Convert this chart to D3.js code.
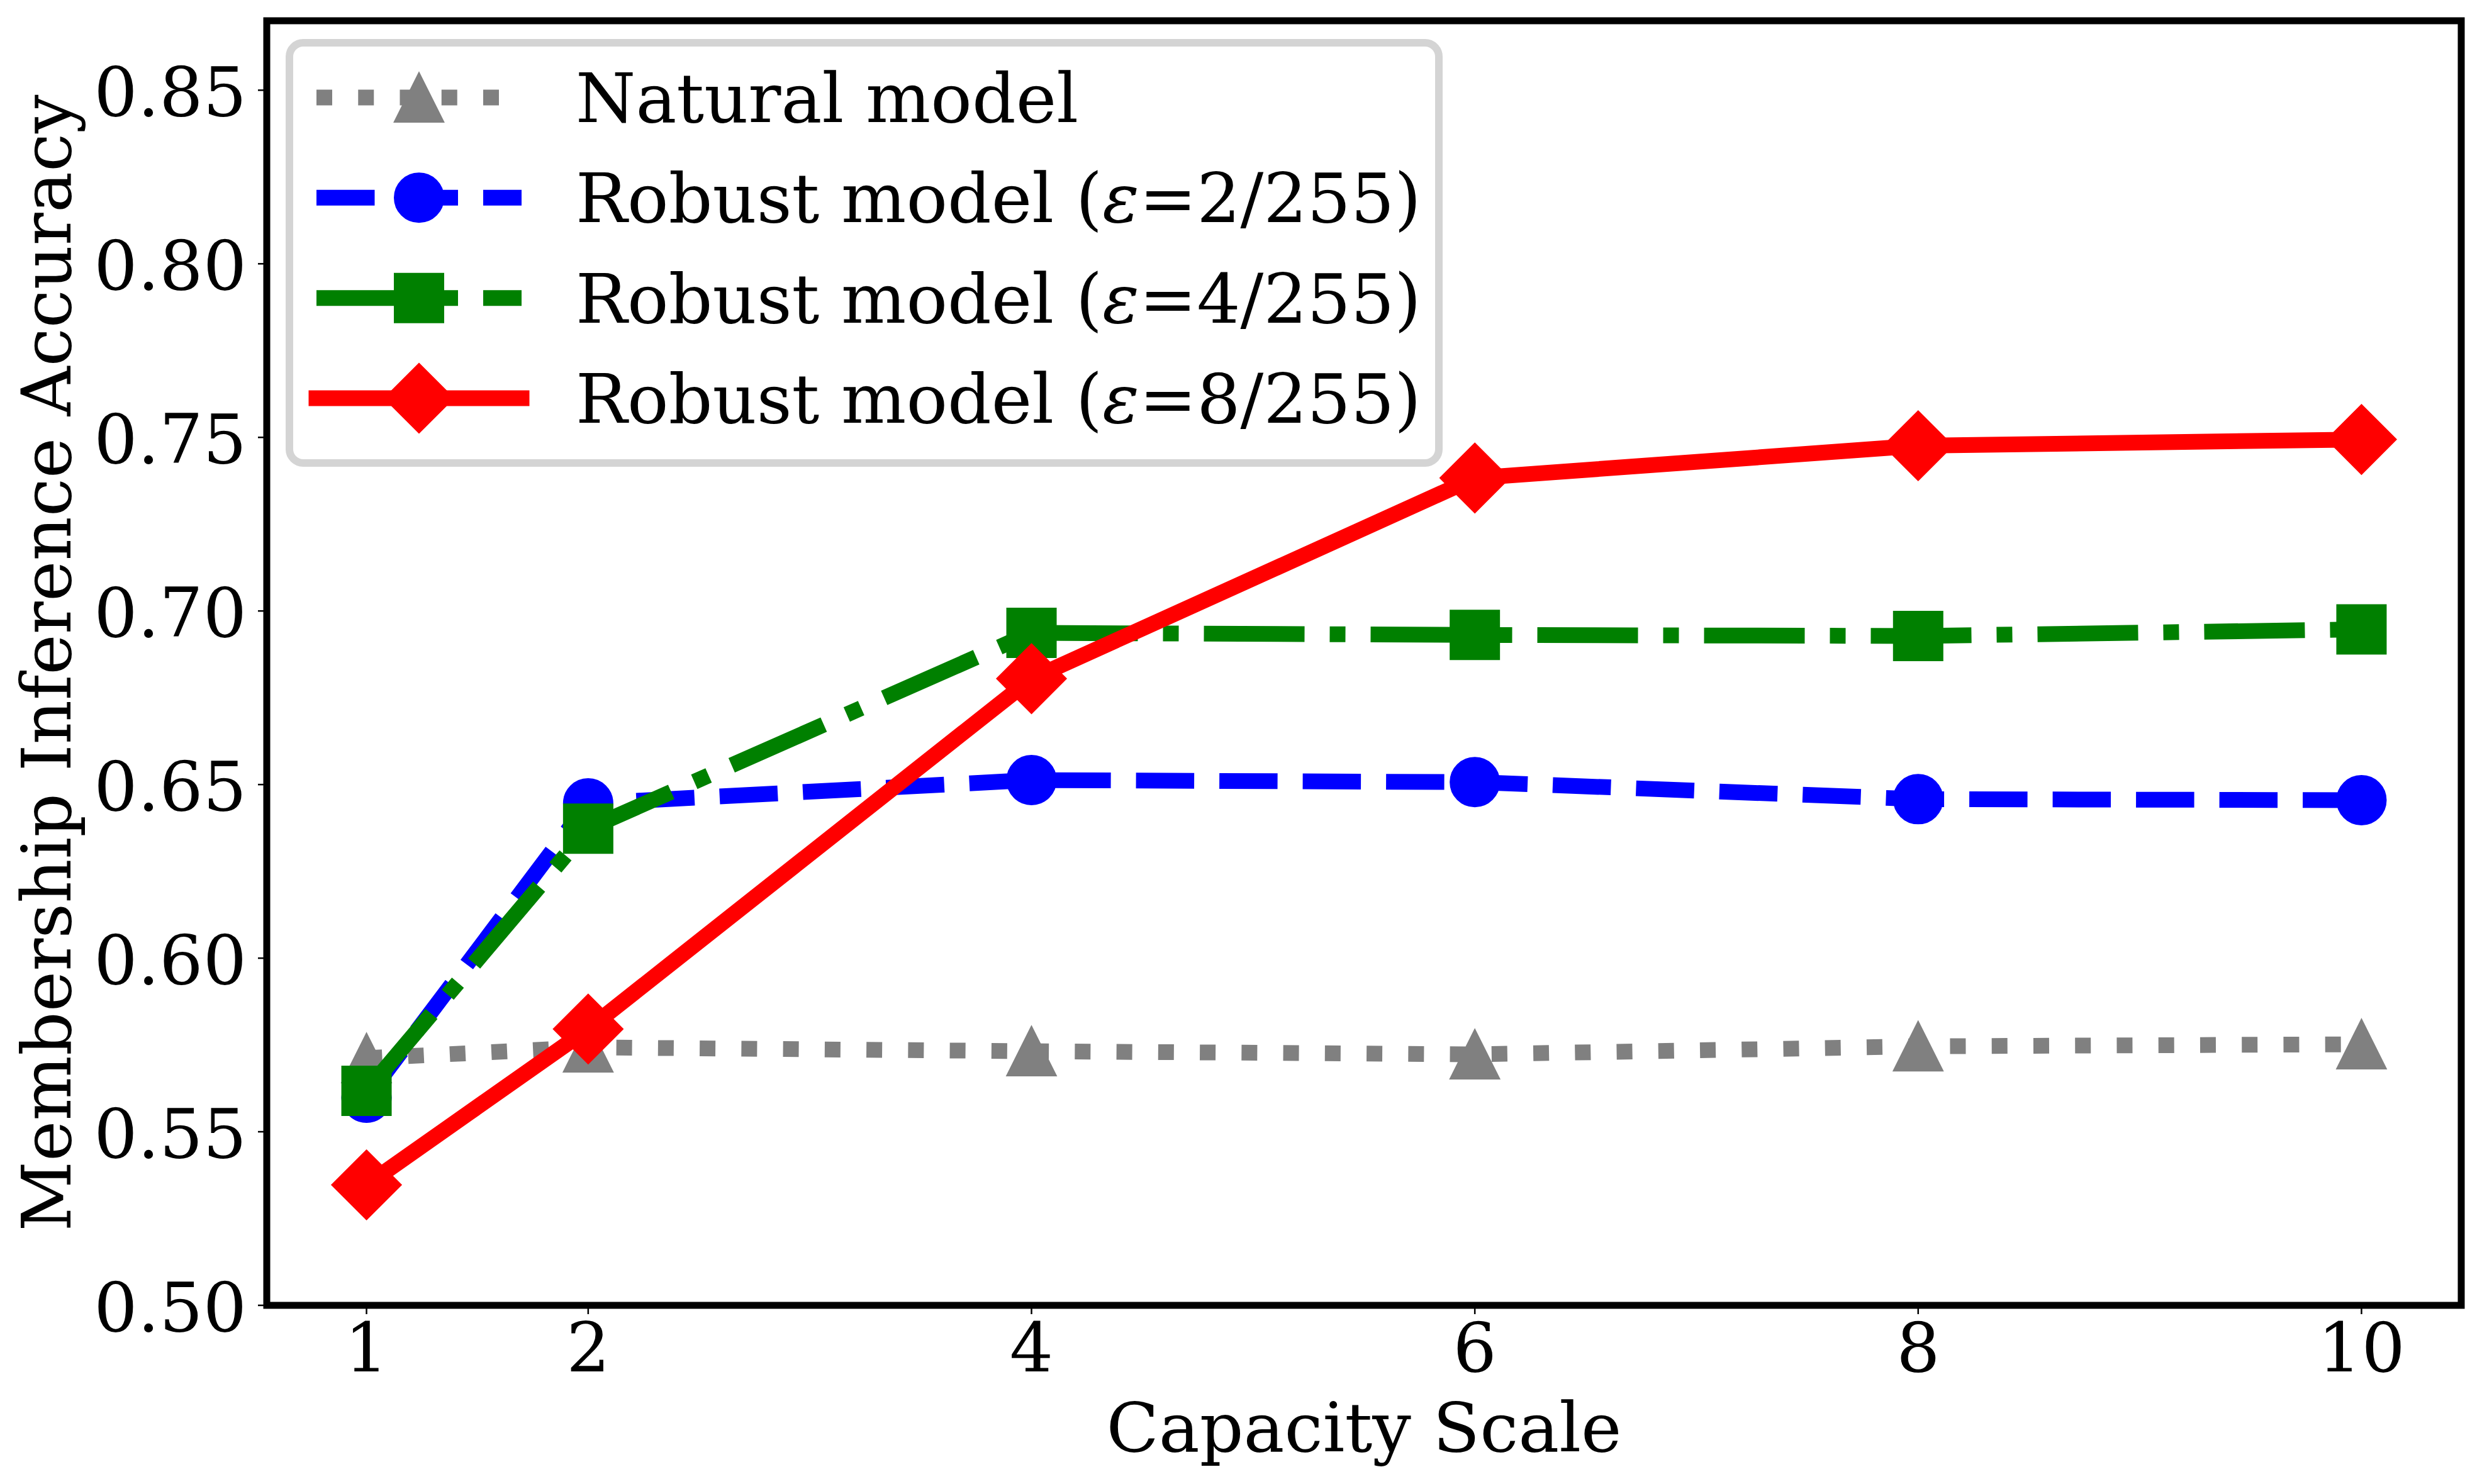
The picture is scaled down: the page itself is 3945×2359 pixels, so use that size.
<!DOCTYPE html>
<html>
<head>
<meta charset="utf-8">
<script src="https://cdn.jsdelivr.net/npm/d3@7"></script>
<style>
  html, body { margin: 0; padding: 0; background: #fff; }
  svg { display: block; }
</style>
</head>
<body>
<div id="chart"></div>
<script>
(function () {
  'use strict';

  // ---- data ----
  const CAPACITY = [1, 2, 4, 6, 8, 10];
  const NATURAL = [0.5712, 0.5743, 0.5732, 0.5723, 0.5746, 0.5752];
  const ROBUST_2 = [0.5598, 0.6446, 0.6513, 0.6507, 0.6458, 0.6455];
  const ROBUST_4 = [0.5618, 0.6373, 0.6937, 0.6931, 0.6928, 0.6947];
  const ROBUST_8 = [0.5347, 0.5796, 0.6805, 0.7383, 0.7476, 0.7494];
  const LABELS = ['Natural model', 'Robust model (ε=2/255)', 'Robust model (ε=4/255)', 'Robust model (ε=8/255)'];
  const X_TICKS = [1, 2, 4, 6, 8, 10];
  const Y_TICKS = [0.50, 0.55, 0.60, 0.65, 0.70, 0.75, 0.80, 0.85];
  const X_TITLE = 'Capacity Scale';
  const Y_TITLE = 'Membership Inference Accuracy';

  const W = 3945, H = 2359;
  const FONT = '"DejaVu Serif", serif';
  const FS = 109;
  const LW = 25;
  const MS = 77;

  // plot box (spine centres)
  const box = { left: 424, right: 3912, top: 33, bottom: 2075 };

  const x = d3.scaleLinear().domain([0.55, 10.45]).range([box.left, box.right]);
  const y = d3.scaleLinear().domain([0.5, 0.87]).range([box.bottom, box.top]);

  // matplotlib-like marker shapes; size = ms^2
  const tri = { draw(ctx, s) { const r = Math.sqrt(s) / 2; ctx.moveTo(0, -r); ctx.lineTo(-r, r); ctx.lineTo(r, r); ctx.closePath(); } };
  const circ = { draw(ctx, s) { const r = Math.sqrt(s) / 2; ctx.moveTo(r, 0); ctx.arc(0, 0, r, 0, 2 * Math.PI); ctx.closePath(); } };
  const sq = { draw(ctx, s) { const r = Math.sqrt(s) / 2; ctx.rect(-r, -r, 2 * r, 2 * r); } };
  const dia = { draw(ctx, s) { const r = Math.sqrt(s) / 2 * Math.SQRT2; ctx.moveTo(0, -r); ctx.lineTo(r, 0); ctx.lineTo(0, r); ctx.lineTo(-r, 0); ctx.closePath(); } };

  const series = [
    { values: NATURAL, color: '#808080', dash: [LW * 1, LW * 1.65], marker: tri },
    { values: ROBUST_2, color: '#0000ff', dash: [LW * 3.7, LW * 1.6], marker: circ },
    { values: ROBUST_4, color: '#008000', dash: [LW * 6.4, LW * 1.6, LW * 1, LW * 1.6], marker: sq },
    { values: ROBUST_8, color: '#ff0000', dash: null, marker: dia },
  ];

  const svg = d3.select('#chart').append('svg')
    .attr('width', W).attr('height', H)
    .attr('viewBox', `0 0 ${W} ${H}`);

  svg.append('rect').attr('width', W).attr('height', H).attr('fill', '#fff');

  const symbol = d3.symbol().size(MS * MS);
  const line = d3.line().x((d, i) => x(CAPACITY[i])).y(d => y(d));

  // series: line then markers, in plotting order
  series.forEach(s => {
    const g = svg.append('g');
    g.append('path')
      .attr('d', line(s.values))
      .attr('fill', 'none')
      .attr('stroke', s.color)
      .attr('stroke-width', LW)
      .attr('stroke-linejoin', 'round')
      .attr('stroke-linecap', s.dash ? 'butt' : 'square')
      .attr('stroke-dasharray', s.dash ? s.dash.join(',') : null);
    g.selectAll('path.mk').data(s.values).enter().append('path')
      .attr('class', 'mk')
      .attr('transform', (d, i) => `translate(${x(CAPACITY[i])},${y(d)})`)
      .attr('d', symbol.type(s.marker)())
      .attr('fill', s.color)
      .attr('stroke', s.color)
      .attr('stroke-width', 3);
  });

  // spines
  svg.append('rect')
    .attr('x', box.left).attr('y', box.top)
    .attr('width', box.right - box.left).attr('height', box.bottom - box.top)
    .attr('fill', 'none').attr('stroke', '#000').attr('stroke-width', 11);

  // x ticks
  const xt = svg.append('g');
  X_TICKS.forEach(t => {
    xt.append('line')
      .attr('x1', x(t)).attr('x2', x(t))
      .attr('y1', box.bottom).attr('y2', box.bottom + 14)
      .attr('stroke', '#000').attr('stroke-width', 2.5);
    xt.append('text')
      .attr('x', x(t)).attr('y', 2180)
      .attr('text-anchor', 'middle')
      .attr('font-family', FONT).attr('font-size', FS)
      .text(t);
  });

  // y ticks
  const yt = svg.append('g');
  Y_TICKS.forEach(t => {
    yt.append('line')
      .attr('x1', box.left - 14).attr('x2', box.left)
      .attr('y1', y(t)).attr('y2', y(t))
      .attr('stroke', '#000').attr('stroke-width', 2.5);
    yt.append('text')
      .attr('x', 392).attr('y', y(t) + 41)
      .attr('text-anchor', 'end')
      .attr('font-family', FONT).attr('font-size', FS)
      .text(d3.format('.2f')(t));
  });

  // axis titles
  svg.append('text')
    .attr('x', (box.left + box.right) / 2).attr('y', 2307)
    .attr('text-anchor', 'middle')
    .attr('font-family', FONT).attr('font-size', FS)
    .text(X_TITLE);

  svg.append('text')
    .attr('transform', `translate(112,${(box.top + box.bottom) / 2}) rotate(-90)`)
    .attr('text-anchor', 'middle')
    .attr('font-family', FONT).attr('font-size', FS)
    .text(Y_TITLE);

  // legend
  const lg = svg.append('g');
  lg.append('rect')
    .attr('x', 460).attr('y', 68)
    .attr('width', 2287 - 460).attr('height', 736 - 68)
    .attr('rx', 22).attr('ry', 22)
    .attr('fill', '#fff').attr('fill-opacity', 0.8)
    .attr('stroke', '#d4d4d4').attr('stroke-width', 12);

  const rowY = d3.scaleLinear().domain([0, 3]).range([155, 633]);
  series.forEach((s, i) => {
    const cy = rowY(i);
    lg.append('path')
      .attr('d', `M503,${cy}L829,${cy}`)
      .attr('fill', 'none')
      .attr('stroke', s.color)
      .attr('stroke-width', LW)
      .attr('stroke-linecap', s.dash ? 'butt' : 'square')
      .attr('stroke-dasharray', s.dash ? s.dash.join(',') : null);
    lg.append('path')
      .attr('transform', `translate(666,${cy})`)
      .attr('d', symbol.type(s.marker)())
      .attr('fill', s.color)
      .attr('stroke', s.color)
      .attr('stroke-width', 3);

    const txt = lg.append('text')
      .attr('x', 915).attr('y', cy + 39)
      .attr('font-family', FONT).attr('font-size', FS);
    const parts = LABELS[i].split('ε');
    txt.append('tspan').text(parts[0]);
    if (parts.length > 1) {
      txt.append('tspan').attr('font-style', 'italic').text('ε');
      txt.append('tspan').text(parts[1]);
    }
  });
})();
</script>
</body>
</html>
